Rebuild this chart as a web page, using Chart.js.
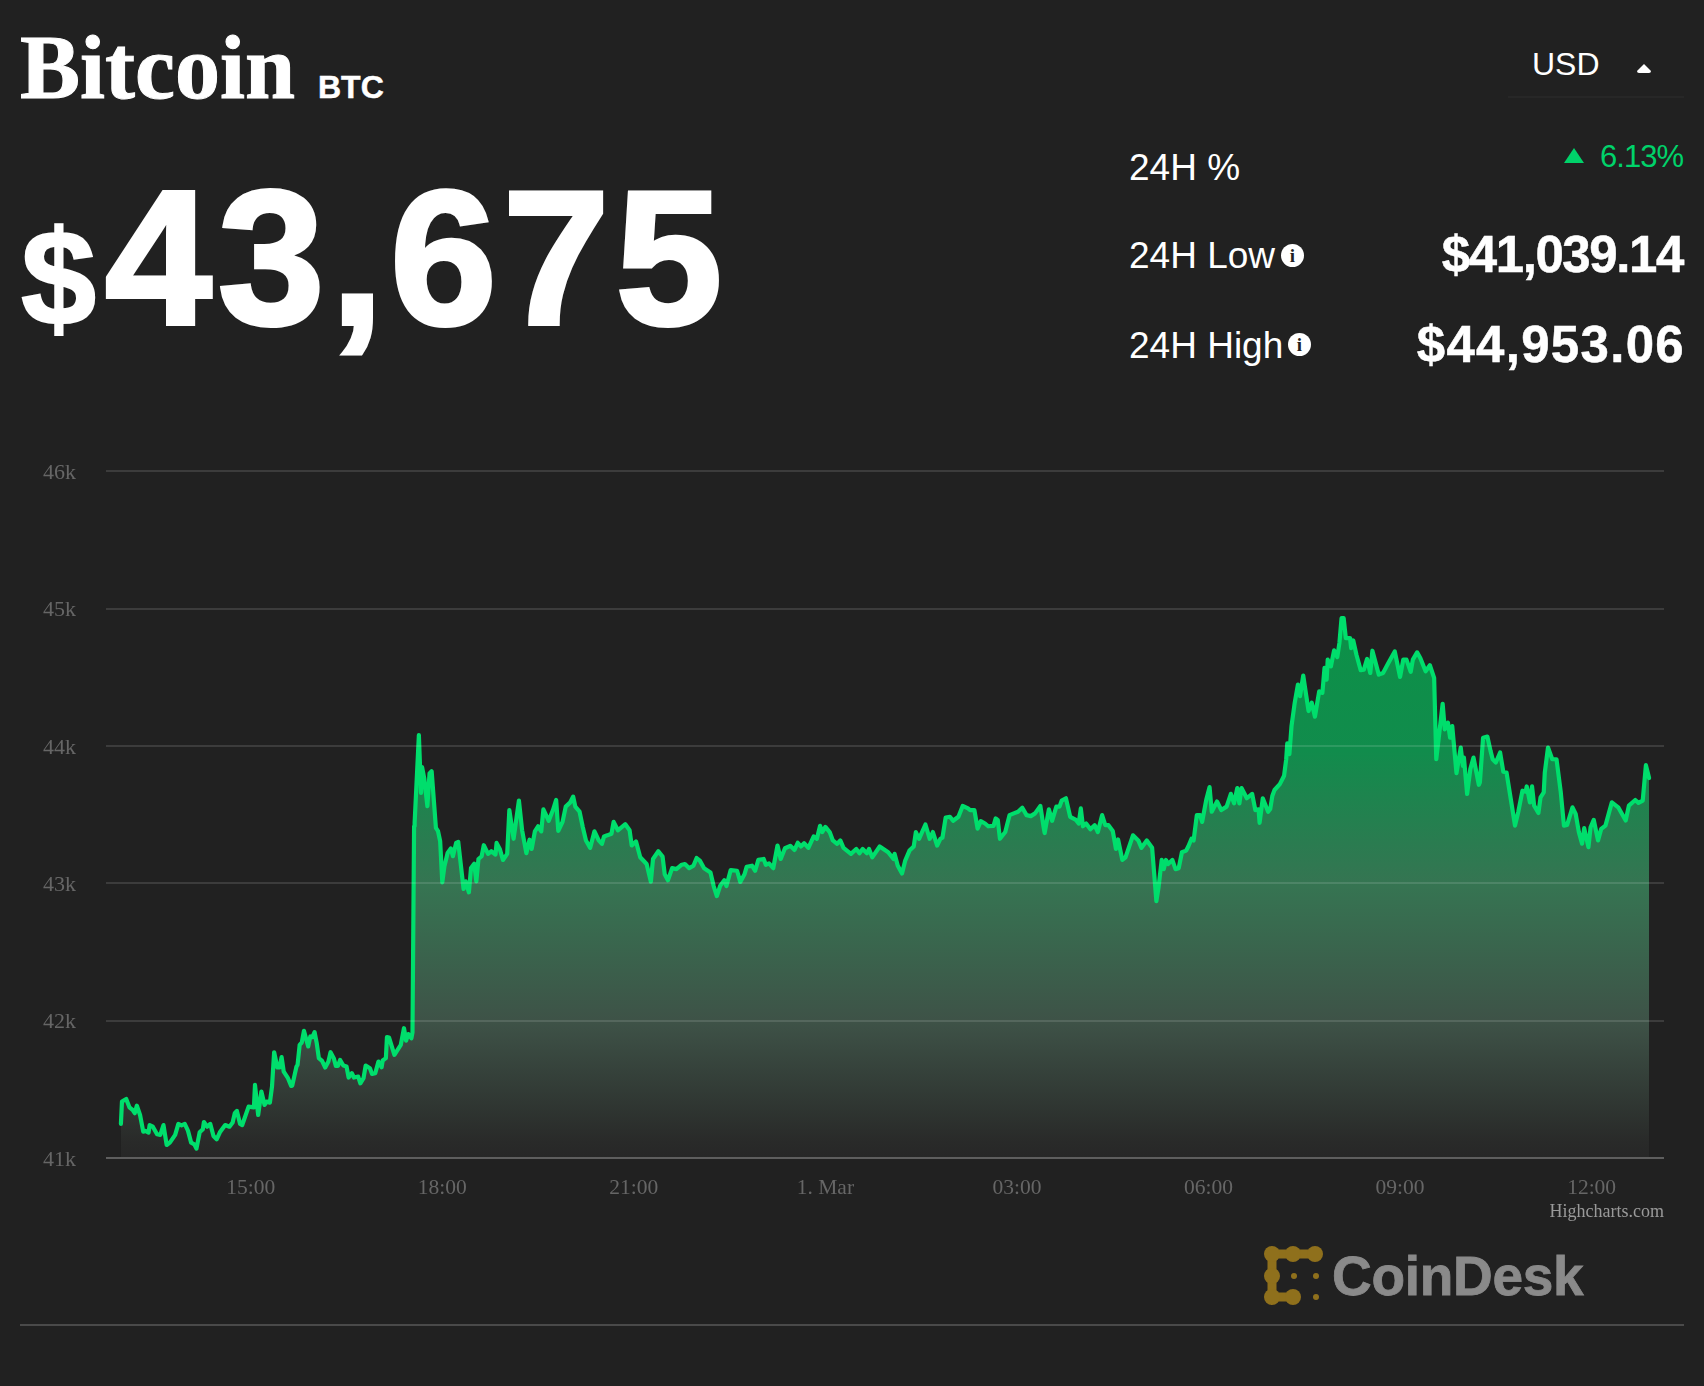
<!DOCTYPE html>
<html>
<head>
<meta charset="utf-8">
<title>Bitcoin BTC</title>
<script src="https://cdn.jsdelivr.net/npm/chart.js@4/dist/chart.umd.min.js"></script>
<style>
  html, body { margin: 0; padding: 0; background: #212121; }
  body { position: relative; width: 1704px; height: 1386px; overflow: hidden; color: #fff; font-family: "Liberation Sans", sans-serif; }
  .t { position: absolute; line-height: 1; white-space: nowrap; }
  .b { font-weight: 700; }
  .serif { font-family: "Liberation Serif", serif; }
  #chartBox { position: absolute; left: 0; top: 428px; width: 1704px; height: 812px; }
  .info { position: absolute; width: 23px; height: 23px; border-radius: 50%; background: #fff; color: #212121; font: 700 19px/23px "Liberation Serif", serif; text-align: center; }
  .rule { position: absolute; height: 2px; }
</style>
</head>
<body>
  <div class="t b serif" style="left:20px;top:23px;font-size:90px;-webkit-text-stroke:1px #fff">Bitcoin</div>
  <div class="t b" style="left:318px;top:71px;font-size:32px;-webkit-text-stroke:0.5px #fff">BTC</div>
  <div class="t b" style="left:21px;top:211px;font-size:135px;-webkit-text-stroke:2px #fff">$</div>
  <div class="t b" style="left:105px;top:162px;font-size:192px;letter-spacing:6px;-webkit-text-stroke:4px #fff">43,675</div>

  <div class="t" style="left:1532px;top:48px;font-size:32px">USD</div>
  <svg style="position:absolute;left:1636px;top:63px" width="16" height="11"><path d="M8 1 L15 8 Q15 10 13 10 L3 10 Q1 10 1 8 Z" fill="#fff"/></svg>
  <div class="rule" style="left:1508px;top:96px;width:176px;background:#272727"></div>

  <div class="t" style="left:1129px;top:149px;font-size:37px">24H %</div>
  <svg style="position:absolute;left:1564px;top:148px" width="20" height="16"><path d="M10 0 L20 15 L0 15 Z" fill="#00d26a"/></svg>
  <div class="t" style="right:21px;top:141px;font-size:31px;letter-spacing:-1px;color:#00d26a">6.13%</div>

  <div class="t" style="left:1129px;top:237px;font-size:37px">24H Low</div>
  <div class="info" style="left:1281px;top:244px">i</div>
  <div class="t b" style="right:21px;top:229px;font-size:51px;letter-spacing:-1.4px;-webkit-text-stroke:0.5px #fff">$41,039.14</div>

  <div class="t" style="left:1129px;top:327px;font-size:37px">24H High</div>
  <div class="info" style="left:1288px;top:333px">i</div>
  <div class="t b" style="right:19px;top:319px;font-size:51px;letter-spacing:1.3px;-webkit-text-stroke:0.5px #fff">$44,953.06</div>

  <div id="chartBox"><canvas id="btcChart" width="1704" height="812"></canvas></div>

  <div class="t serif" style="right:40px;top:1202px;font-size:18px;color:#9a9a9a">Highcharts.com</div>

  <svg style="position:absolute;left:1258px;top:1240px" width="70" height="72">
    <g fill="none" stroke="#8f701c" stroke-width="9" stroke-linecap="round" stroke-linejoin="round">
      <polyline points="14,14 35,14 57,14"/>
      <polyline points="14,14 14,36 14,57 35,57"/>
    </g>
    <g fill="#8f701c">
      <circle cx="14" cy="14" r="8"/><circle cx="35" cy="14" r="8"/><circle cx="57" cy="14" r="8"/>
      <circle cx="14" cy="36" r="8"/><circle cx="14" cy="57" r="8"/><circle cx="35" cy="57" r="8"/>
      <circle cx="36" cy="36" r="3"/><circle cx="58" cy="36" r="3"/><circle cx="58" cy="57" r="3"/>
    </g>
  </svg>
  <div class="t b" style="left:1332px;top:1249px;font-size:55px;color:#8a8a8a;letter-spacing:-0.3px;-webkit-text-stroke:0.8px #8a8a8a">CoinDesk</div>
  <div class="rule" style="left:20px;top:1324px;width:1664px;background:#4a4a4a"></div>

<script>
// minutes counted from 00:00 on 28 Feb
const minutes = [
  778,779,783,786,789,791,793,796,799,801,804,805,808,812,815,818,821,824,829,832,835,838,841,844,847,849,852,855,856,859,862,865,868,871,876,880,883,885,887,890,892,898,
  903,904,907,910,913,915,918,920,922,925,927,929,931,935,938,939,943,944,946,948,950,954,956,958,960,962,964,967,970,973,975,978,980,982,984,987,990,992,995,997,
  1001,1003,1006,1008,1012,1014,1017,1020,1023,1024,1027,1028,1030,1035,1041,1044,1046,1048,1051,1052,1053.5,1054,1058,1060,1061,1063,1066,1068,1070,1072,1074,1076,1078,1080,1082,1085,1088,1090,1093,1095,1100,
  1102,1105,1107,1110,1112,1114,1117,1119,1123,1126,1130,1131,
  1134,1137,1141,1143,1147,1152,1155,1159,1162,1164,1167,1170,1173,1175,1180,1184,1187,1189,1193,1196,1200,1203,1205,1209,1212,1215,1219,1223,1227,1230,1232,1235,1239,1241,1245,1252,1256,1258,
  1262,1266,1272,1276,1278,1283,1287,1289,1292,1296,1300,1305,1308,1312,1316,1319,1322,1326,1332,1335,1338,1341,1345,1347,1351,1357,1360,1364,1366,1371,1374,1377,1382,1384,1387,1391,1395,1398,
  1402,1407,1411,1414,1417,1420,1424,1429,1432,1435,1437,1440,1444,1447,1451,1454,1457,1464,1469,1472,1475,1479,1481,1484,1491,1499,1504,1505,1508,1512,1515,1519,1523,1525,1528,1534,1538,1541,1545,1548,
  1550,1553,1557,1560,1565,1569,1574,1576,1580,1583,1586,1590,1593,1598,1600,1602,
  1604,1609,1613,1617,1621,1625,1629,1633,1637,1642,1645,1646,1650,1653,1657,1660,1662,1666,1670,1675,1678,1680,1682,1685,1689,1693,1696,1700,1703,1706,1710,1713,1715,1719,1722,1729,1734,1737,1742,1747,
  1751,1753,1756,1758,1760,1762,1766,1769,1772,1775,1779,1781,1784,1786,1789,1792,1794,1798,1801,1803,1808,1812,1817,1821,1824,1827,1829,1831,1836,1841,1844,1847,1848,1851,1856,
  1858,1860,1862,1867,1871,1873,1874,1876,1878,1881,1884,1886,1889,1894,1897,1900,1904,1907,1909,1911,1912,1915,1918,1921,1923,1925,1927,1929,1933,1934,1936,1939,1943,1946,1949,1952,1954,1960,1964,1969,1975,1980,1983,1986,1990,1992,1996,1999,
  2004,2008,2012,2014,2020,2022,2025,2027,2029,2033,2037,2039,2040,2043,2046,2049,2054,2055,2058,2062,2065,2067,2070,2074,2077,2080,2084,2088,2091,2095,2098,2099,
  2102,2104,2106,2110,2112,2115,2116,2119,2123,2127,2131,2134,2137,2142,2145,2148,2151,2153,2157,2159,2162,2166,2169,2173,2176,2179,2185,2192,2195,2201,2204,2208,2211,2214
];

const prices = [
  41248,41411,41430,41369,41350,41326,41381,41313,41192,41197,41185,41240,41228,41173,41168,41240,41095,41112,41168,41248,41238,41248,41199,41112,41100,41068,41187,41209,41262,41228,41248,41160,41136,41187,41240,41228,41258,41326,41343,41248,41240,41374,
  41369,41532,41313,41484,41386,41411,41403,41520,41770,41659,41659,41734,41629,41581,41525,41527,41666,41678,41824,41841,41926,41812,41885,41880,41916,41836,41727,41707,41659,41702,41770,41727,41671,41671,41714,41673,41666,41586,41617,41586,
  41593,41544,41581,41673,41654,41612,41617,41702,41661,41710,41727,41880,41877,41751,41824,41945,41855,41902,41872,41914,43415,43440,44079,43658,43846,43766,43561,43799,43816,43610,43403,43379,43306,43007,43124,43221,43253,43197,43294,43301,42959,
  43014,42934,43112,43143,43014,43177,43197,43277,43214,43233,43209,43294,
  43250,43170,43214,43533,43324,43602,43386,43219,43317,43250,43378,43415,43378,43538,43455,43533,43607,43381,43447,43558,43587,43631,43558,43521,43410,43312,43258,43378,43312,43287,43341,43349,43361,43447,43386,43430,43386,43275,
  43305,43189,43140,43012,43177,43233,43194,43066,43022,43110,43103,43135,43140,43110,43128,43184,43165,43110,43079,42980,42907,42980,43022,42980,43096,43091,43010,43066,43120,43128,43091,43170,43177,43135,43145,43110,43275,43177,
  43255,43273,43243,43295,43268,43292,43258,43341,43324,43418,43373,43410,43373,43312,43287,43312,43258,43214,43250,43219,43250,43219,43250,43189,43268,43226,43177,43214,43128,43071,43165,43238,43268,43373,43324,43428,43324,43373,43275,43324,
  43332,43479,43484,43455,43484,43563,43545,43533,43533,43398,43452,43435,43415,43418,43472,43459,
  43324,43373,43496,43509,43521,43550,43496,43489,43509,43563,43410,43366,43538,43455,43558,43558,43602,43619,43484,43464,43435,43545,43415,43435,43393,43423,43373,43496,43423,43423,43381,43250,43319,43170,43189,43349,43312,43258,43312,43258,
  42870,42968,43170,43103,43170,43140,43170,43103,43110,43226,43238,43268,43324,43312,43496,43496,43447,43612,43700,43521,43595,43533,43558,43651,43582,43693,43582,43693,43619,43651,43533,43538,43440,43619,43521,
  43541,43638,43679,43722,43783,43903,44019,43940,44145,44314,44447,44362,44512,44254,44314,44213,44398,44386,44568,44483,44628,44580,44696,44647,44749,44930,44930,44785,44785,44712,44768,44664,44551,44555,44633,44531,44693,44519,44531,44604,44688,44502,44628,44628,44539,44628,44681,44640,
  44543,44587,44495,43903,44307,44121,44169,44060,44145,43802,43988,43855,43915,43650,43831,43915,43717,43734,44060,44068,43964,43903,43879,43952,43812,43807,43614,43420,43517,43674,43667,43705,
  43589,43705,43565,43512,43626,43662,43807,43988,43903,43903,43662,43420,43425,43553,43505,43372,43288,43401,43263,43408,43461,43312,43396,43420,43505,43589,43553,43457,43565,43606,43585,43602,43860,43766
];

const tickMinutes = [900, 1080, 1260, 1440, 1620, 1800, 1980, 2160];
const tickLabels = ["15:00", "18:00", "21:00", "1. Mar", "03:00", "06:00", "09:00", "12:00"];

const lineColor = "#00de6c";
const tickColor = "#666666";

function areaFill(context) {
  const { chart } = context;
  if (!chart.chartArea) return "transparent";
  const y = chart.scales.y;
  const g = chart.ctx.createLinearGradient(0, y.getPixelForValue(44953), 0, y.getPixelForValue(41000));
  g.addColorStop(0, "#0c9148");
  g.addColorStop(0.25, "#118c4c");
  g.addColorStop(0.5, "#367452");
  g.addColorStop(0.75, "#3e5247");
  g.addColorStop(0.97, "#292a29");
  g.addColorStop(1, "#272727");
  return g;
}

new Chart(document.getElementById("btcChart").getContext("2d"), {
  type: "line",
  data: {
    datasets: [
      {
        data: minutes.map((m, i) => ({ x: m, y: prices[i] })),
        borderColor: lineColor,
        borderWidth: 4.2,
        borderJoinStyle: "round",
        borderCapStyle: "round",
        backgroundColor: areaFill,
        fill: "start",
        pointRadius: 0,
        tension: 0,
      },
    ],
  },
  options: {
    responsive: false,
    animation: false,
    devicePixelRatio: 1,
    layout: { padding: { top: 17, right: 40, left: 0, bottom: 0 } },
    plugins: { legend: { display: false }, tooltip: { enabled: false } },
    scales: {
      x: {
        type: "linear",
        min: 764,
        max: 2228,
        afterBuildTicks: (axis) => {
          axis.ticks = tickMinutes.map((v) => ({ value: v }));
        },
        afterFit: (axis) => {
          axis.height = 82;
        },
        grid: { display: false },
        border: { display: false },
        ticks: {
          autoSkip: false,
          maxRotation: 0,
          padding: 9,
          color: tickColor,
          font: { family: "Liberation Serif", size: 21.5 },
          callback: (v) => tickLabels[tickMinutes.indexOf(v)],
        },
      },
      y: {
        min: 41000,
        max: 46000,
        afterFit: (axis) => {
          axis.width = 106;
        },
        grid: {
          z: 1,
          drawTicks: false,
          lineWidth: 2,
          color: (c) => (c.tick.value === 41000 ? "#5e5e5e" : "rgba(255,255,255,0.12)"),
        },
        border: { display: false },
        ticks: {
          stepSize: 1000,
          padding: 30,
          labelOffset: 2,
          color: tickColor,
          font: { family: "Liberation Serif", size: 22 },
          callback: (v) => v / 1000 + "k",
        },
      },
    },
  },
});
</script>
</body>
</html>
